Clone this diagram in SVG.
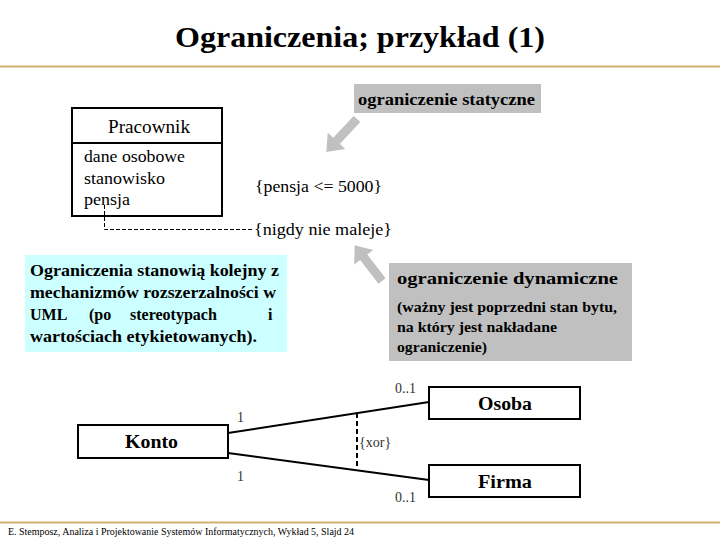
<svg xmlns="http://www.w3.org/2000/svg" width="720" height="540" viewBox="0 0 720 540">
<style>
.t{font-family:"Liberation Serif","Times New Roman",serif;fill:#000}
.b{font-weight:bold}
.box{fill:#fff;stroke:#000;stroke-width:2}
.rule{stroke:#D2B06E;stroke-width:2}
.line{stroke:#000;stroke-width:2;fill:none}
.dash{stroke:#000;stroke-width:1;stroke-dasharray:4 2;fill:none}
.gray{fill:#C0C0C0}
.thin{font-family:"Liberation Serif","Times New Roman",serif;fill:#333;font-size:14px}
</style>
<defs>
<polygon id="arr" points="0,-4.5 30,-4.5 30,-12 45,0 30,12 30,4.5 0,4.5"/>
</defs>
<rect width="720" height="540" fill="#fff"/>
<text class="t b" x="175" y="47" font-size="30" textLength="370" lengthAdjust="spacingAndGlyphs">Ograniczenia; przykład (1)</text>
<line class="rule" x1="0" y1="66.5" x2="720" y2="66.5"/>
<line class="rule" x1="0" y1="522.5" x2="720" y2="522.5"/>
<text class="t" x="8" y="535" font-size="10" textLength="346" lengthAdjust="spacingAndGlyphs">E. Stemposz, Analiza i Projektowanie Systemów Informatycznych, Wykład 5, Slajd 24</text>

<g id="label-static">
<rect class="gray" x="354" y="84" width="187" height="29"/>
<text class="t b" x="358" y="105" font-size="17" textLength="177" lengthAdjust="spacingAndGlyphs">ograniczenie statyczne</text>
</g>
<g id="arrow-static">
<use href="#arr" fill="#C0C0C0" transform="translate(357,119) rotate(133)"/>
</g>

<g id="pracownik">
<rect class="box" x="72" y="108" width="150" height="108"/>
<line class="line" x1="72" y1="143" x2="222" y2="143"/>
<text class="t" x="108" y="133" font-size="18" textLength="82" lengthAdjust="spacingAndGlyphs">Pracownik</text>
<text class="t" x="84" y="162" font-size="17" textLength="101" lengthAdjust="spacingAndGlyphs">dane osobowe</text>
<text class="t" x="84" y="184" font-size="17" textLength="81" lengthAdjust="spacingAndGlyphs">stanowisko</text>
<text class="t" x="84" y="205" font-size="17" textLength="46" lengthAdjust="spacingAndGlyphs">pensja</text>
</g>
<g id="constraint-static">
<text class="t" x="255" y="192" font-size="17" textLength="127" lengthAdjust="spacingAndGlyphs">{pensja &lt;= 5000}</text>
</g>
<g id="constraint-dynamic">
<text class="t" x="254" y="235" font-size="17" textLength="138" lengthAdjust="spacingAndGlyphs">{nigdy nie maleje}</text>
</g>

<g id="note-cyan">
<rect x="25" y="255" width="262" height="97" fill="#CCFFFF"/>
<text class="t b" x="30" y="276" font-size="16" textLength="249" lengthAdjust="spacingAndGlyphs">Ograniczenia stanowią kolejny z</text>
<text class="t b" x="30" y="298" font-size="16" textLength="246" lengthAdjust="spacingAndGlyphs">mechanizmów rozszerzalności w</text>
<text class="t b" font-size="16" y="320"><tspan x="30">UML</tspan><tspan x="89">(po</tspan><tspan x="130">stereotypach</tspan><tspan x="268">i</tspan></text>
<text class="t b" x="30" y="342" font-size="16" textLength="227" lengthAdjust="spacingAndGlyphs">wartościach etykietowanych).</text>
</g>

<g id="label-dynamic">
<rect class="gray" x="389" y="263" width="243" height="98"/>
<text class="t b" x="397" y="284" font-size="17" textLength="221" lengthAdjust="spacingAndGlyphs">ograniczenie dynamiczne</text>
<text class="t b" x="397" y="312" font-size="14" textLength="220" lengthAdjust="spacingAndGlyphs">(ważny jest poprzedni stan bytu,</text>
<text class="t b" x="397" y="332" font-size="14" textLength="160" lengthAdjust="spacingAndGlyphs">na który jest nakładane</text>
<text class="t b" x="397" y="352" font-size="14" textLength="90" lengthAdjust="spacingAndGlyphs">ograniczenie)</text>
</g>
<g id="arrow-dynamic">
<use href="#arr" fill="#C0C0C0" transform="translate(382,281) rotate(232.5)"/>
</g>

<g id="konto">
<rect class="box" x="78" y="425" width="150" height="33"/>
<text class="t b" x="125" y="448" font-size="18" textLength="53" lengthAdjust="spacingAndGlyphs">Konto</text>
</g>
<g id="osoba">
<rect class="box" x="429" y="387" width="151" height="32"/>
<text class="t b" x="478" y="410" font-size="18" textLength="54" lengthAdjust="spacingAndGlyphs">Osoba</text>
</g>
<g id="firma">
<rect class="box" x="429" y="465" width="151" height="32"/>
<text class="t b" x="478" y="488" font-size="18" textLength="54" lengthAdjust="spacingAndGlyphs">Firma</text>
</g>

<g id="connectors">
<polyline class="dash" points="104.5,205 104.5,229.5 253,229.5"/>
<line class="line" x1="228" y1="433" x2="429" y2="402"/>
<line class="line" x1="228" y1="453" x2="429" y2="480"/>
<line class="line" x1="357" y1="413" x2="357" y2="469" stroke-dasharray="5 3"/>
<text class="thin" x="395" y="393">0..1</text>
<text class="thin" x="237" y="422">1</text>
<text class="thin" x="237" y="481">1</text>
<text class="thin" x="395" y="502">0..1</text>
<text class="thin" x="359" y="447">{xor}</text>
</g>
</svg>
